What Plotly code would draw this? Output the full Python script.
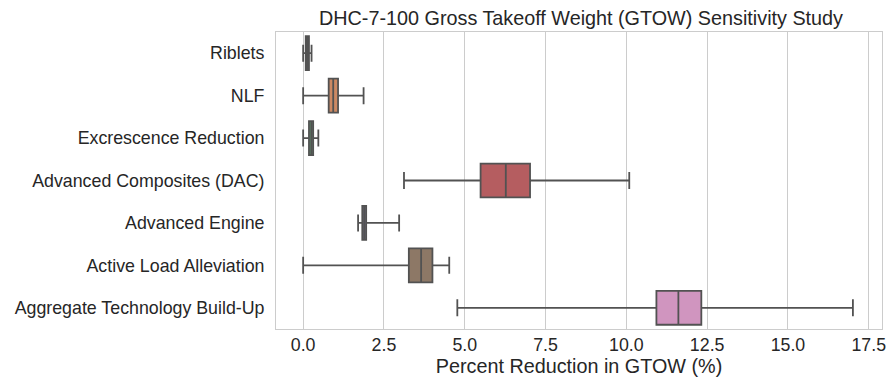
import plotly.graph_objects as go

categories = ["Riblets", "NLF", "Excrescence Reduction", "Advanced Composites (DAC)",
              "Advanced Engine", "Active Load Alleviation", "Aggregate Technology Build-Up"]
lower_whisker = [0.00, 0.00, 0.00, 3.12, 1.70, 0.00, 4.77]
q1_values = [0.08, 0.79, 0.18, 5.49, 1.83, 3.27, 10.93]
median_values = [0.13, 0.93, 0.25, 6.27, 1.89, 3.65, 11.61]
q3_values = [0.18, 1.08, 0.31, 7.02, 1.95, 4.00, 12.32]
upper_whisker = [0.26, 1.87, 0.47, 10.09, 2.97, 4.52, 17.01]
x_ticks = [0.0, 2.5, 5.0, 7.5, 10.0, 12.5, 15.0, 17.5]

colors = ["#5875a4", "#cc8963", "#5f9e6e", "#b55d60", "#857aab", "#8d7866", "#d095bf"]
edge = "rgb(82,82,82)"
FONT = "Liberation Sans, Arial, sans-serif"
TXT = "#262626"

fig = go.Figure()
for i, cat in enumerate(categories):
    fig.add_trace(go.Box(
        y=[cat], q1=[q1_values[i]], median=[median_values[i]], q3=[q3_values[i]],
        lowerfence=[lower_whisker[i]], upperfence=[upper_whisker[i]],
        orientation="h", fillcolor=colors[i], line=dict(color=edge, width=1.8),
        width=0.8, whiskerwidth=0.5, boxpoints=False, showlegend=False, name=cat,
    ))

fig.update_layout(
    width=890, height=383,
    margin=dict(l=276, r=4, t=32, b=54),
    paper_bgcolor="white", plot_bgcolor="white",
    boxmode="overlay",
    font=dict(family=FONT, color=TXT, size=17.8),
    title=dict(text="DHC-7-100 Gross Takeoff Weight (GTOW) Sensitivity Study",
               x=(276 + 886) / 2 / 890, xanchor="center", y=1 - 18 / 383, yanchor="middle",
               font=dict(family=FONT, size=19.8, color=TXT)),
    xaxis=dict(range=[-0.84, 17.91], tickvals=x_ticks, ticktext=[f"{v:.1f}" for v in x_ticks],
               showgrid=True, gridcolor="#cccccc", gridwidth=1, zeroline=False,
               showline=True, linecolor="#cccccc", linewidth=1, mirror=True,
               ticks="", tickfont=dict(size=17.8, color=TXT), ticklabeloverflow="allow",
               title=dict(text="Percent Reduction in GTOW (%)", font=dict(size=19.8, color=TXT), standoff=4)),
    yaxis=dict(categoryorder="array", categoryarray=categories, range=[6.5, -0.5],
               showgrid=False, zeroline=False,
               showline=True, linecolor="#cccccc", linewidth=1, mirror=True,
               ticks="", ticklabelstandoff=7, tickfont=dict(size=17.8, color=TXT)),
)

fig.write_html("out.html")
